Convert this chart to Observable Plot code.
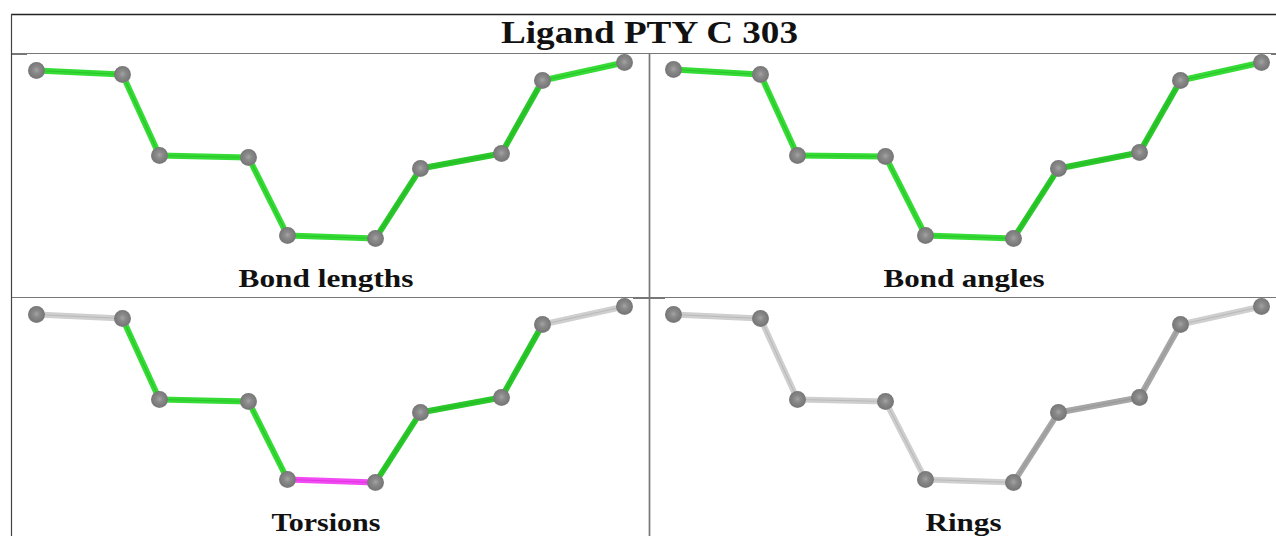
<!DOCTYPE html>
<html><head><meta charset="utf-8">
<script src="https://cdn.jsdelivr.net/npm/d3@7"></script>
<script src="https://cdn.jsdelivr.net/npm/@observablehq/plot@0.6"></script>
<style>html,body{margin:0;padding:0;background:#fff}svg{display:block}</style>
</head><body><div id="chart"></div>
<script>
const title = "Ligand PTY C 303";
const panelNames = ["Bond lengths", "Bond angles", "Torsions", "Rings"];
const labelX = [325.5, 963.5, 325.5, 963];
const labelY = [278, 278, 522, 522];
const labelWidth = [175, 161, 109, 76];
const titleWidth = 297;
const x1 = [36,122,159,248,287,375,420,501,542,624];
const y1 = [70,74,155,157,235,238,168,153,80,62];
const x2 = [673,760,797,885,925,1013,1058,1139,1180,1261];
const y2 = [69,74,155,156,235,238,168,152,80,62];
const x3 = [36,122,159,248,287,375,420,501,542,624];
const y3 = [314,318,399,401,479,482,412,397,324,306];
const x4 = [673,760,797,885,925,1013,1058,1139,1180,1261];
const y4 = [314,318,399,401,479,482,412,397,324,306];
const G = "#36dc36", DG = "#2ac82a", L = "#cfcfcf", D = "#a6a6a6", M = "#f24af2";
const K = "#1fb01f", KM = "#d020d0", KL = "#a8a8a8", KD = "#8e8e8e";
const col1 = [G,G,G,G,G,DG,DG,DG,G];
const core1 = [K,K,K,K,K,K,K,K,K];
const col2 = [G,G,G,G,G,DG,DG,DG,G];
const core2 = [K,K,K,K,K,K,K,K,K];
const col3 = [L,G,G,G,M,DG,DG,DG,L];
const core3 = [KL,K,K,K,KM,K,K,K,KL];
const col4 = [L,L,L,L,L,D,D,D,L];
const core4 = [KL,KL,KL,KL,KL,KD,KD,KD,KL];
const hLines = [53, 297];
const topLine = 14;
const leftLine = 11;
const midLine = 649;
const stubY = [54, 54, 298];
const stubX1 = [12, 1271, 633];
const stubX2 = [27, 1276, 665];

const panels = [[x1,y1,col1,core1],[x2,y2,col2,core2],[x3,y3,col3,core3],[x4,y4,col4,core4]];
const bonds = panels.flatMap(([xs,ys,cs,ks]) => cs.map((c,i)=>({x1:xs[i],y1:ys[i],x2:xs[i+1],y2:ys[i+1],c,k:ks[i]})));
const atoms = panels.flatMap(([xs,ys]) => xs.map((x,i)=>({x,y:ys[i]})));
const labels = panelNames.map((t,i)=>({t,x:labelX[i],y:labelY[i]}));
const stubs = stubY.map((y,i)=>({y,x1:stubX1[i],x2:stubX2[i]}));
const font = "'Liberation Serif', serif";
const soft = "blur(0.6px)";

const plot = Plot.plot({
  width:1276, height:536, margin:0,
  x:{domain:[0,1276],range:[0,1276],axis:null},
  y:{domain:[0,536],range:[0,536],axis:null},
  color:{type:"identity"},
  marks:[
    Plot.ruleY([topLine],{stroke:"#222",strokeWidth:1.3,x1:leftLine,x2:1276}),
    Plot.ruleY(hLines,{stroke:"#777",strokeWidth:1.1,x1:leftLine,x2:1276}),
    Plot.ruleY(stubs,{y:"y",x1:"x1",x2:"x2",stroke:"#777",strokeWidth:1}),
    Plot.ruleX([leftLine],{stroke:"#444",strokeWidth:1.2,y1:topLine,y2:536}),
    Plot.ruleX([midLine],{stroke:"#777",strokeWidth:1.7,y1:hLines[0],y2:536}),
    Plot.link(bonds,{x1:"x1",y1:"y1",x2:"x2",y2:"y2",stroke:"c",strokeWidth:6,imageFilter:soft}),
    Plot.link(bonds,{x1:"x1",y1:"y1",x2:"x2",y2:"y2",stroke:"k",strokeWidth:1.1,strokeOpacity:0.55,imageFilter:soft}),
    Plot.dot(atoms,{x:"x",y:"y",r:8.5,fill:"url(#ball)",stroke:"none",imageFilter:soft}),
    Plot.text([title],{x:[649],y:[32],text:d=>d,fontFamily:font,fontWeight:"bold",fontSize:32,fill:"#111",textAnchor:"middle",className:"ttl"}),
    Plot.text(labels,{x:"x",y:"y",text:"t",fontFamily:font,fontWeight:"bold",fontSize:25.5,fill:"#111",textAnchor:"middle",className:"lbl"})
  ]
});
const sel = d3.select(plot);
sel.selectAll(".ttl text").attr("textLength",titleWidth).attr("lengthAdjust","spacingAndGlyphs");
sel.selectAll(".lbl text").each(function(d,i){
  d3.select(this).attr("textLength",labelWidth[i]).attr("lengthAdjust","spacingAndGlyphs");
});
const defs = sel.insert("defs",":first-child");
const g = defs.append("radialGradient").attr("id","ball").attr("cx","0.5").attr("cy","0.47").attr("r","0.55");
g.append("stop").attr("offset","0").attr("stop-color","#a4a4a4");
g.append("stop").attr("offset","0.35").attr("stop-color","#8a8a8a");
g.append("stop").attr("offset","0.85").attr("stop-color","#777");
g.append("stop").attr("offset","1").attr("stop-color","#8e8e8e");
document.getElementById("chart").append(plot);
</script></body></html>
